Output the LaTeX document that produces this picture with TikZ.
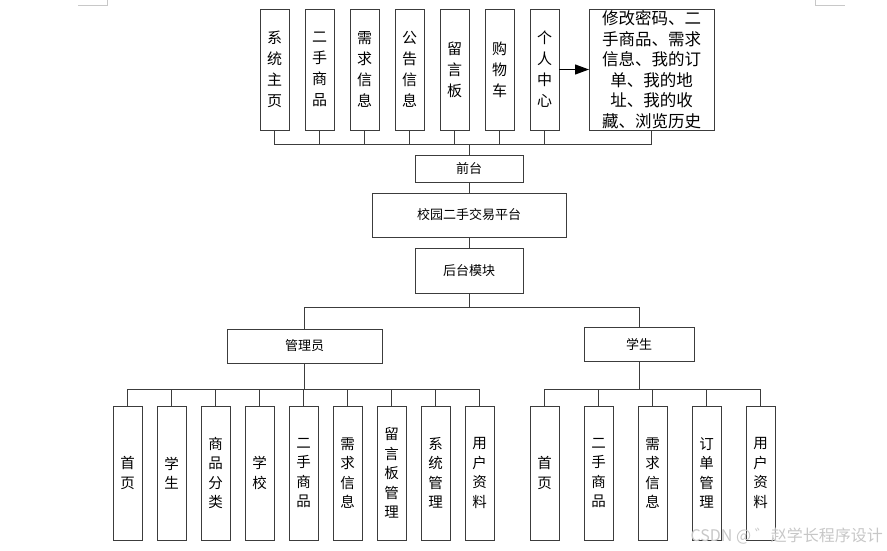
\documentclass[tikz,border=0pt]{standalone}
\usepackage{fontspec}
\setmainfont{Noto Sans CJK SC}
\usetikzlibrary{arrows.meta,positioning}
\definecolor{cLine}{RGB}{60,60,60}
\definecolor{cMark}{RGB}{200,200,200}

\begin{document}
\begin{tikzpicture}[
			x=1pt,y=-1pt,
			node distance=16pt,
			colbox/.style={
				draw=cLine,
				line width=1pt,
				outer sep=0pt,
				minimum width=29pt,
				minimum height=121pt,
				inner sep=0pt,
				align=center,
				font=\fontsize{15}{21}\selectfont
			},
			subbox/.style={
				colbox,
				minimum height=134pt,
				font=\fontsize{14.5}{19.5}\selectfont
			},
			midbox/.style={
				draw=cLine,
				line width=1pt,
				outer sep=0pt,
				inner sep=0pt,
				align=center,
				font=\fontsize{13}{15}\selectfont
			},
			link/.style={draw=cLine,line width=0.9pt},
			arr/.style={-{Triangle[length=14pt,width=10pt]},line width=1.2pt,draw=black}
			]
			\useasboundingbox (0,0) rectangle (887,550);
			% page corner marks
			\draw[cMark,line width=0.8pt] (78,5) -- (107,5) -- (107,0);
			\draw[cMark,line width=0.8pt] (815,0) -- (815,5) -- (845,5);
			% front end
			\node[colbox] (home) at (274.5,69.5) {系\\统\\主\\页};
			\node[colbox,right=of home] (goods) {二\\手\\商\\品};
			\node[colbox,right=of goods] (need) {需\\求\\信\\息};
			\node[colbox,right=of need] (notice) {公\\告\\信\\息};
			\node[colbox,right=of notice] (board) {留\\言\\板};
			\node[colbox,right=of board] (cart) {购\\物\\车};
			\node[colbox,right=of cart] (center) {个\\人\\中\\心};
			\node[colbox,right=30pt of center,minimum width=125pt,
				font=\fontsize{16.5}{20.5}\selectfont] (more)
				{修改密码、二\\手商品、需求\\信息、我的订\\单、我的地\\址、我的收\\藏、浏览历史};
			\draw[arr] (center.east) -- (more.west);
			\node[midbox,minimum width=108pt,minimum height=27pt] (front) at (469,168.5) {前台};
			\node[midbox,below=11pt of front,minimum width=194pt,minimum height=44pt] (plat) {校园二手交易平台};
			\node[midbox,below=11pt of plat,minimum width=108pt,minimum height=45pt] (back) {后台模块};
			\coordinate (fbus) at (469,144);
			\foreach \n in {home,goods,need,notice,board,cart,center,more}
				\draw[link] (\n.south) |- (fbus);
			\draw[link] (fbus) -- (front.north);
			\draw[link] (front.south) -- (plat.north);
			\draw[link] (plat.south) -- (back.north);
			% back end
			\node[midbox,minimum width=155pt,minimum height=34pt] (admin) at (304.5,346) {管理员};
			\node[midbox,minimum width=110pt,minimum height=34pt] (stu) at (639,344) {学生};
			\coordinate (bbus) at (469,307);
			\draw[link] (back.south) -- (bbus);
			\draw[link] (bbus) -| (admin.north);
			\draw[link] (bbus) -| (stu.north);
			% admin modules
			\node[subbox] (a1) at (127.5,473) {首\\页};
			\node[subbox,right=15pt of a1] (a2) {学\\生};
			\node[subbox,right=15pt of a2] (a3) {商\\品\\分\\类};
			\node[subbox,right=15pt of a3] (a4) {学\\校};
			\node[subbox,right=15pt of a4] (a5) {二\\手\\商\\品};
			\node[subbox,right=15pt of a5] (a6) {需\\求\\信\\息};
			\node[subbox,right=15pt of a6] (a7) {留\\言\\板\\管\\理};
			\node[subbox,right=15pt of a7] (a8) {系\\统\\管\\理};
			\node[subbox,right=15pt of a8] (a9) {用\\户\\资\\料};
			\coordinate (gbus) at (304.5,389);
			\draw[link] (admin.south) -- (gbus);
			\foreach \n in {a1,a2,a3,a4,a5,a6,a7,a8,a9}
				\draw[link] (\n.north) |- (gbus);
			% student modules
			\node[subbox] (s1) at (544.5,473) {首\\页};
			\node[subbox,right=25pt of s1] (s2) {二\\手\\商\\品};
			\node[subbox,right=25pt of s2] (s3) {需\\求\\信\\息};
			\node[subbox,right=25pt of s3] (s4) {订\\单\\管\\理};
			\node[subbox,right=25pt of s4] (s5) {用\\户\\资\\料};
			\coordinate (sbus) at (639,389);
			\draw[link] (stu.south) -- (sbus);
			\foreach \n in {s1,s2,s3,s4,s5}
				\draw[link] (\n.north) |- (sbus);
			% watermark
			\node[text=black!22,font=\fontsize{16}{18}\selectfont,anchor=east,inner sep=0pt] (mark) at (883,536) {CSDN @ ゛赵学长程序设计};
		\end{tikzpicture}
\end{document}
